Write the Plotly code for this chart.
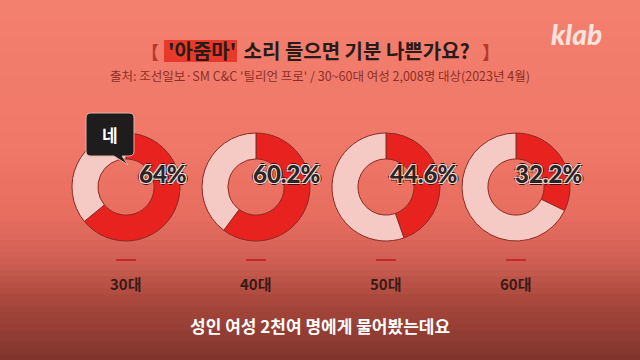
import plotly.graph_objects as go

# ---- data ----
categories = ["30대", "40대", "50대", "60대"]
yes_pct = [64, 60.2, 44.6, 32.2]
pct_labels = ["64%", "60.2%", "44.6%", "32.2%"]
title_hl = "'아줌마'"
title_post = " 소리 들으면 기분 나쁜가요?"
source_text = "출처: 조선일보·SM C&C '틸리언 프로' / 30~60대 여성 2,008명 대상(2023년 4월)"
caption = "성인 여성 2천여 명에게 물어봤는데요"
bubble_text = "네"
logo_text = "klab"

W, H = 640, 360
FONT = "Noto Sans CJK KR"

def px(x):
    return x / W

def py(y):
    return 1 - y / H

fig = go.Figure()

# background gradient (stacked bands)
stops = [(0, (244, 128, 112)), (150, (240, 120, 104)), (215, (232, 110, 96)),
         (260, (208, 96, 84)), (300, (170, 72, 62)), (360, (128, 52, 44))]

def col_at(y):
    for (y0, c0), (y1, c1) in zip(stops[:-1], stops[1:]):
        if y0 <= y <= y1:
            t = (y - y0) / (y1 - y0)
            return tuple(int(c0[i] + (c1[i] - c0[i]) * t) for i in range(3))
    return stops[-1][1]

shapes = []
band = 6
for y in range(0, H, band):
    c = col_at(y + band / 2)
    shapes.append(dict(type="rect", xref="paper", yref="paper", x0=0, x1=1,
                       y0=py(y + band + 0.5), y1=py(y), line=dict(width=0),
                       fillcolor=f"rgb{c}", layer="below"))

centers = [126, 256, 386, 516]
cy = 187
R = 54
for i, (cat, v) in enumerate(zip(categories, yes_pct)):
    cx = centers[i]
    fig.add_trace(go.Pie(
        values=[v, 100 - v], labels=["네", "아니오"], sort=False,
        direction="clockwise", rotation=0, hole=0.52,
        textinfo="none", hoverinfo="skip", showlegend=False,
        marker=dict(colors=["#e8221f", "#f5c9c4"],
                    line=dict(color="#8a2a22", width=1)),
        domain=dict(x=[px(cx - R), px(cx + R)], y=[py(cy + R), py(cy - R)]),
    ))
    shapes.append(dict(type="line", xref="paper", yref="paper",
                       x0=px(cx - 10), x1=px(cx + 10), y0=py(260), y1=py(260),
                       line=dict(color="#c42a26", width=2)))

annotations = []

def ann(text, x, y, size, color, family=FONT, xanchor="center", weight="normal",
        shadow=None, style="normal"):
    f = dict(family=family, size=size, color=color, weight=weight, style=style)
    if shadow:
        f["shadow"] = shadow
    annotations.append(dict(text=text, x=px(x), y=py(y), xref="paper", yref="paper",
                            xanchor=xanchor, yanchor="middle", showarrow=False, font=f))

offs = [11, -5, 2, -3]
stroke = ("-1px -1px 0 #f3d6d0, 1px -1px 0 #f3d6d0, -1px 1px 0 #f3d6d0, 1px 1px 0 #f3d6d0, "
          "0 2px 0 #3a1410, 2px 0 0 #3a1410, -2px 0 0 #3a1410, 0 -2px 0 #3a1410")
for i, (lab, cat) in enumerate(zip(pct_labels, categories)):
    cx = centers[i]
    ann(lab, cx + offs[i], 173, 24, "#2b2424", family="Lato", xanchor="left",
        weight=900, shadow=stroke)
    ann(cat, cx, 283, 15, "#3a1a16", weight="bold")

# speech bubble
bx0, bx1, by0, by1, r = 86, 134, 113, 156, 5
path = (f"M {px(bx0 + r)},{py(by0)} L {px(bx1 - r)},{py(by0)} "
        f"Q {px(bx1)},{py(by0)} {px(bx1)},{py(by0 + r)} "
        f"L {px(bx1)},{py(by1 - r)} Q {px(bx1)},{py(by1)} {px(bx1 - r)},{py(by1)} "
        f"L {px(122)},{py(by1)} L {px(128)},{py(165)} L {px(114)},{py(by1)} "
        f"L {px(bx0 + r)},{py(by1)} Q {px(bx0)},{py(by1)} {px(bx0)},{py(by1 - r)} "
        f"L {px(bx0)},{py(by0 + r)} Q {px(bx0)},{py(by0)} {px(bx0 + r)},{py(by0)} Z")
shapes.append(dict(type="path", xref="paper", yref="paper", path=path,
                   fillcolor="#1e1c1c", line=dict(color="#e6b0a8", width=1)))
ann(bubble_text, 110, 134, 17, "#ffffff", weight="bold")

# title: brackets + highlighted word + rest
shapes.append(dict(type="rect", xref="paper", yref="paper",
                   x0=px(164), x1=px(237), y0=py(62), y1=py(40),
                   fillcolor="#e83a2a", line=dict(width=0)))
ann("【", 161, 51, 18, "#b8382c", xanchor="right", weight="bold")
ann(title_hl, 166, 51, 20, "#2a1a18", xanchor="left", weight="bold")
ann(title_post, 237, 51, 20, "#2a1a18", xanchor="left", weight="bold")
ann("】", 480, 51, 18, "#b8382c", xanchor="left", weight="bold")
ann(source_text, 320, 75, 12.5, "#8e2e24")
ann(logo_text, 576, 34, 28, "#fbe3dc", family="Lato", weight=900, style="italic")
ann(caption, 320, 325, 17, "#ffffff", weight="bold")

fig.update_layout(width=W, height=H, margin=dict(l=0, r=0, t=0, b=0),
                  paper_bgcolor="#e87060", plot_bgcolor="rgba(0,0,0,0)",
                  shapes=shapes, annotations=annotations)
fig.write_html("out.html")
